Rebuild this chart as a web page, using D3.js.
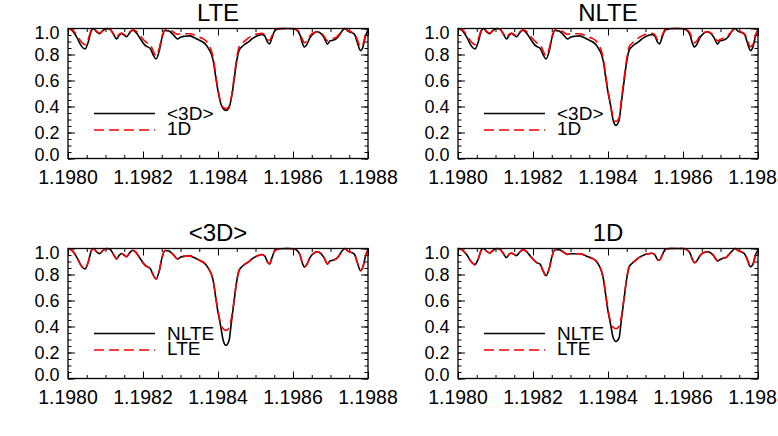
<!DOCTYPE html>
<html>
<head>
<meta charset="utf-8">
<script src="https://d3js.org/d3.v7.min.js"></script>
<style>
  body { margin: 0; background: #fff; }
  text { font-family: "Liberation Sans", Arial, Helvetica, sans-serif; fill: #000; }
</style>
</head>
<body>
<svg width="778" height="436"></svg>
<script>

// ----- data (wavelength in micron, normalised flux) -----
var wl = [
  1.1980000, 1.1980107, 1.1980240, 1.1980347, 1.1980453, 1.1980533, 1.1980627, 1.1980680, 1.1980760, 1.1980840,
  1.1980933, 1.1981040, 1.1981120, 1.1981213, 1.1981293, 1.1981360, 1.1981427, 1.1981493, 1.1981560, 1.1981653,
  1.1981733, 1.1981813, 1.1981920, 1.1982027, 1.1982107, 1.1982187, 1.1982267, 1.1982347, 1.1982427, 1.1982507,
  1.1982587, 1.1982693, 1.1982800, 1.1982920, 1.1983013, 1.1983120, 1.1983253, 1.1983360, 1.1983467, 1.1983573,
  1.1983680, 1.1983760, 1.1983827, 1.1983880, 1.1983933, 1.1984000, 1.1984067, 1.1984133, 1.1984213, 1.1984293,
  1.1984360, 1.1984427, 1.1984493, 1.1984560, 1.1984640, 1.1984720, 1.1984813, 1.1984907, 1.1984987, 1.1985093,
  1.1985173, 1.1985253, 1.1985320, 1.1985373, 1.1985440, 1.1985520, 1.1985653, 1.1985840, 1.1986000, 1.1986107,
  1.1986187, 1.1986253, 1.1986307, 1.1986373, 1.1986453, 1.1986560, 1.1986653, 1.1986747, 1.1986827, 1.1986920,
  1.1986987, 1.1987067, 1.1987147, 1.1987227, 1.1987307, 1.1987387, 1.1987467, 1.1987547, 1.1987640, 1.1987707,
  1.1987800, 1.1987867, 1.1987933, 1.1988000
];

var lte3d = [
  1.000, 0.985, 0.930, 0.870, 0.843, 0.890, 0.985, 1.000, 0.975, 0.960,
  0.985, 1.000, 0.995, 0.955, 0.920, 0.945, 0.962, 0.950, 0.937, 0.970,
  0.987, 0.970, 0.925, 0.880, 0.860, 0.848, 0.800, 0.765, 0.820, 0.930,
  0.985, 0.980, 0.955, 0.920, 0.935, 0.940, 0.943, 0.930, 0.915, 0.900,
  0.875, 0.840, 0.800, 0.740, 0.640, 0.520, 0.430, 0.385, 0.370, 0.390,
  0.470, 0.600, 0.740, 0.830, 0.860, 0.880, 0.897, 0.920, 0.935, 0.948,
  0.954, 0.940, 0.895, 0.882, 0.930, 0.985, 0.998, 1.000, 0.998, 0.985,
  0.950, 0.885, 0.858, 0.880, 0.930, 0.965, 0.975, 0.960, 0.930, 0.880,
  0.905, 0.910, 0.920, 0.945, 0.980, 1.000, 0.980, 0.970, 0.955, 0.900,
  0.830, 0.860, 0.940, 0.990
];

var lte1d = [
  1.000, 0.990, 0.950, 0.900, 0.876, 0.915, 0.990, 1.000, 0.980, 0.965,
  0.985, 1.000, 0.995, 0.960, 0.930, 0.955, 0.965, 0.955, 0.945, 0.975,
  0.990, 0.980, 0.945, 0.910, 0.890, 0.880, 0.830, 0.790, 0.840, 0.940,
  0.990, 0.990, 0.975, 0.955, 0.960, 0.960, 0.960, 0.950, 0.936, 0.925,
  0.905, 0.870, 0.825, 0.760, 0.660, 0.530, 0.440, 0.395, 0.383, 0.400,
  0.480, 0.620, 0.760, 0.855, 0.885, 0.905, 0.928, 0.943, 0.954, 0.960,
  0.963, 0.950, 0.915, 0.910, 0.945, 0.990, 1.000, 1.000, 1.000, 0.990,
  0.965, 0.915, 0.890, 0.905, 0.945, 0.970, 0.975, 0.965, 0.940, 0.905,
  0.915, 0.925, 0.930, 0.955, 0.980, 1.000, 0.985, 0.975, 0.960, 0.920,
  0.860, 0.880, 0.950, 0.990
];

var nlte3d = [
  1.000, 0.985, 0.930, 0.870, 0.843, 0.890, 0.985, 1.000, 0.975, 0.960,
  0.985, 1.000, 0.995, 0.955, 0.920, 0.945, 0.962, 0.950, 0.937, 0.970,
  0.987, 0.970, 0.925, 0.880, 0.860, 0.848, 0.800, 0.765, 0.820, 0.930,
  0.985, 0.980, 0.955, 0.920, 0.935, 0.940, 0.943, 0.930, 0.915, 0.900,
  0.875, 0.840, 0.800, 0.740, 0.635, 0.510, 0.410, 0.300, 0.255, 0.290,
  0.440, 0.590, 0.735, 0.830, 0.860, 0.880, 0.897, 0.920, 0.935, 0.948,
  0.954, 0.940, 0.895, 0.882, 0.930, 0.985, 0.998, 1.000, 0.998, 0.985,
  0.950, 0.885, 0.858, 0.880, 0.930, 0.965, 0.975, 0.960, 0.930, 0.880,
  0.905, 0.910, 0.920, 0.945, 0.980, 1.000, 0.980, 0.970, 0.955, 0.900,
  0.830, 0.860, 0.940, 0.990
];

var nlte1d = [
  1.000, 0.990, 0.950, 0.900, 0.876, 0.915, 0.990, 1.000, 0.980, 0.965,
  0.985, 1.000, 0.995, 0.960, 0.930, 0.955, 0.965, 0.955, 0.945, 0.975,
  0.990, 0.980, 0.945, 0.910, 0.890, 0.880, 0.830, 0.790, 0.840, 0.940,
  0.990, 0.990, 0.975, 0.955, 0.960, 0.960, 0.960, 0.950, 0.936, 0.925,
  0.905, 0.870, 0.825, 0.760, 0.655, 0.520, 0.420, 0.320, 0.285, 0.310,
  0.460, 0.610, 0.755, 0.855, 0.885, 0.905, 0.928, 0.943, 0.954, 0.960,
  0.963, 0.950, 0.915, 0.910, 0.945, 0.990, 1.000, 1.000, 1.000, 0.990,
  0.965, 0.915, 0.890, 0.905, 0.945, 0.970, 0.975, 0.965, 0.940, 0.905,
  0.915, 0.925, 0.930, 0.955, 0.980, 1.000, 0.985, 0.975, 0.960, 0.920,
  0.860, 0.880, 0.950, 0.990
];

var xTicks = [1.1980, 1.1982, 1.1984, 1.1986, 1.1988];
var yTicks = [0.0, 0.2, 0.4, 0.6, 0.8, 1.0];

// ----- panel layout --------------------------------------------------------
var panels = [
  { title: "LTE",  left: 68,  top: 28.5,  solid: lte3d,  dashed: lte1d, solidName: "<3D>", dashedName: "1D" },
  { title: "NLTE", left: 458, top: 28.5,  solid: nlte3d, dashed: nlte1d, solidName: "<3D>", dashedName: "1D" },
  { title: "<3D>", left: 68,  top: 248.5, solid: nlte3d, dashed: lte3d, solidName: "NLTE", dashedName: "LTE" },
  { title: "1D",   left: 458, top: 248.5, solid: nlte1d, dashed: lte1d, solidName: "NLTE", dashedName: "LTE" }
];

var pw = 300, ph = 130;
var svg = d3.select("svg");

var x = d3.scaleLinear().domain([1.1980, 1.1988]).range([0, pw]);
var y = d3.scaleLinear().domain([0, 1]).range([ph, 0]);

var line = d3.line()
    .x(function(d) { return x(d[0]); })
    .y(function(d) { return y(d[1]); })
    .curve(d3.curveMonotoneX);

function pairs(vals) { return wl.map(function(w, i) { return [w, vals[i]]; }); }

panels.forEach(function(p) {
  var g = svg.append("g").attr("transform", "translate(" + p.left + "," + p.top + ")");

  g.append("text")
      .attr("x", pw / 2).attr("y", -16).attr("dy", "0.35em")
      .attr("text-anchor", "middle")
      .style("font-size", "24px")
      .text(p.title);

  // ticks: minor + major on all four sides, pointing in
  var minorX = d3.range(0, 17).map(function(i) { return 1.1980 + i * 0.00005; });
  var minorY = d3.range(0, 21).map(function(i) { return i * 0.05; });

  function tickLayer(axisFn, scale, values, size, tr) {
    var a = g.append("g").attr("transform", tr)
        .call(axisFn(scale).tickValues(values).tickSize(size).tickFormat(""));
    a.select(".domain").remove();
    a.selectAll("line").attr("stroke", "#000").attr("stroke-width", 1);
    return a;
  }
  tickLayer(d3.axisBottom, x, minorX, -3.5, "translate(0," + ph + ")");
  tickLayer(d3.axisTop, x, minorX, -3.5, "translate(0,0)");
  tickLayer(d3.axisLeft, y, minorY, -3.5, "translate(0,0)");
  tickLayer(d3.axisRight, y, minorY, -3.5, "translate(" + pw + ",0)");
  tickLayer(d3.axisBottom, x, xTicks, -7, "translate(0," + ph + ")");
  tickLayer(d3.axisTop, x, xTicks, -7, "translate(0,0)");
  tickLayer(d3.axisLeft, y, yTicks, -7, "translate(0,0)");
  tickLayer(d3.axisRight, y, yTicks, -7, "translate(" + pw + ",0)");

  // labels
  g.selectAll(".xl").data(xTicks).enter().append("text")
      .attr("x", function(d) { return x(d); })
      .attr("y", ph + 19).attr("dy", "0.35em")
      .attr("text-anchor", "middle")
      .style("font-size", "19.5px")
      .text(function(d) { return d.toFixed(4); });

  g.selectAll(".yl").data(yTicks).enter().append("text")
      .attr("x", -8.5)
      .attr("y", function(d) { return y(d) + (d === 1 ? 4 : d === 0 ? -4 : 0); })
      .attr("dy", "0.35em")
      .attr("text-anchor", "end")
      .style("font-size", "18px")
      .text(function(d) { return d.toFixed(1); });

  // curves
  g.append("path")
      .attr("d", line(pairs(p.solid)))
      .attr("fill", "none").attr("stroke", "#000").attr("stroke-width", 1.6);
  g.append("path")
      .attr("d", line(pairs(p.dashed)))
      .attr("fill", "none").attr("stroke", "#ff0000").attr("stroke-width", 1.6)
      .attr("stroke-dasharray", "10,5");

  // box
  g.append("rect")
      .attr("width", pw).attr("height", ph)
      .attr("fill", "none").attr("stroke", "#000").attr("stroke-width", 1.3);

  // legend
  g.append("line").attr("x1", 26).attr("x2", 87).attr("y1", 85).attr("y2", 85)
      .attr("stroke", "#000").attr("stroke-width", 1.6);
  g.append("line").attr("x1", 26).attr("x2", 87).attr("y1", 101.5).attr("y2", 101.5)
      .attr("stroke", "#ff0000").attr("stroke-width", 1.6).attr("stroke-dasharray", "10,5");
  g.append("text").attr("x", 99).attr("y", 84.5).attr("dy", "0.35em")
      .style("font-size", "19px").text(p.solidName);
  g.append("text").attr("x", 99).attr("y", 100).attr("dy", "0.35em")
      .style("font-size", "19px").text(p.dashedName);
});

</script>
</body>
</html>
